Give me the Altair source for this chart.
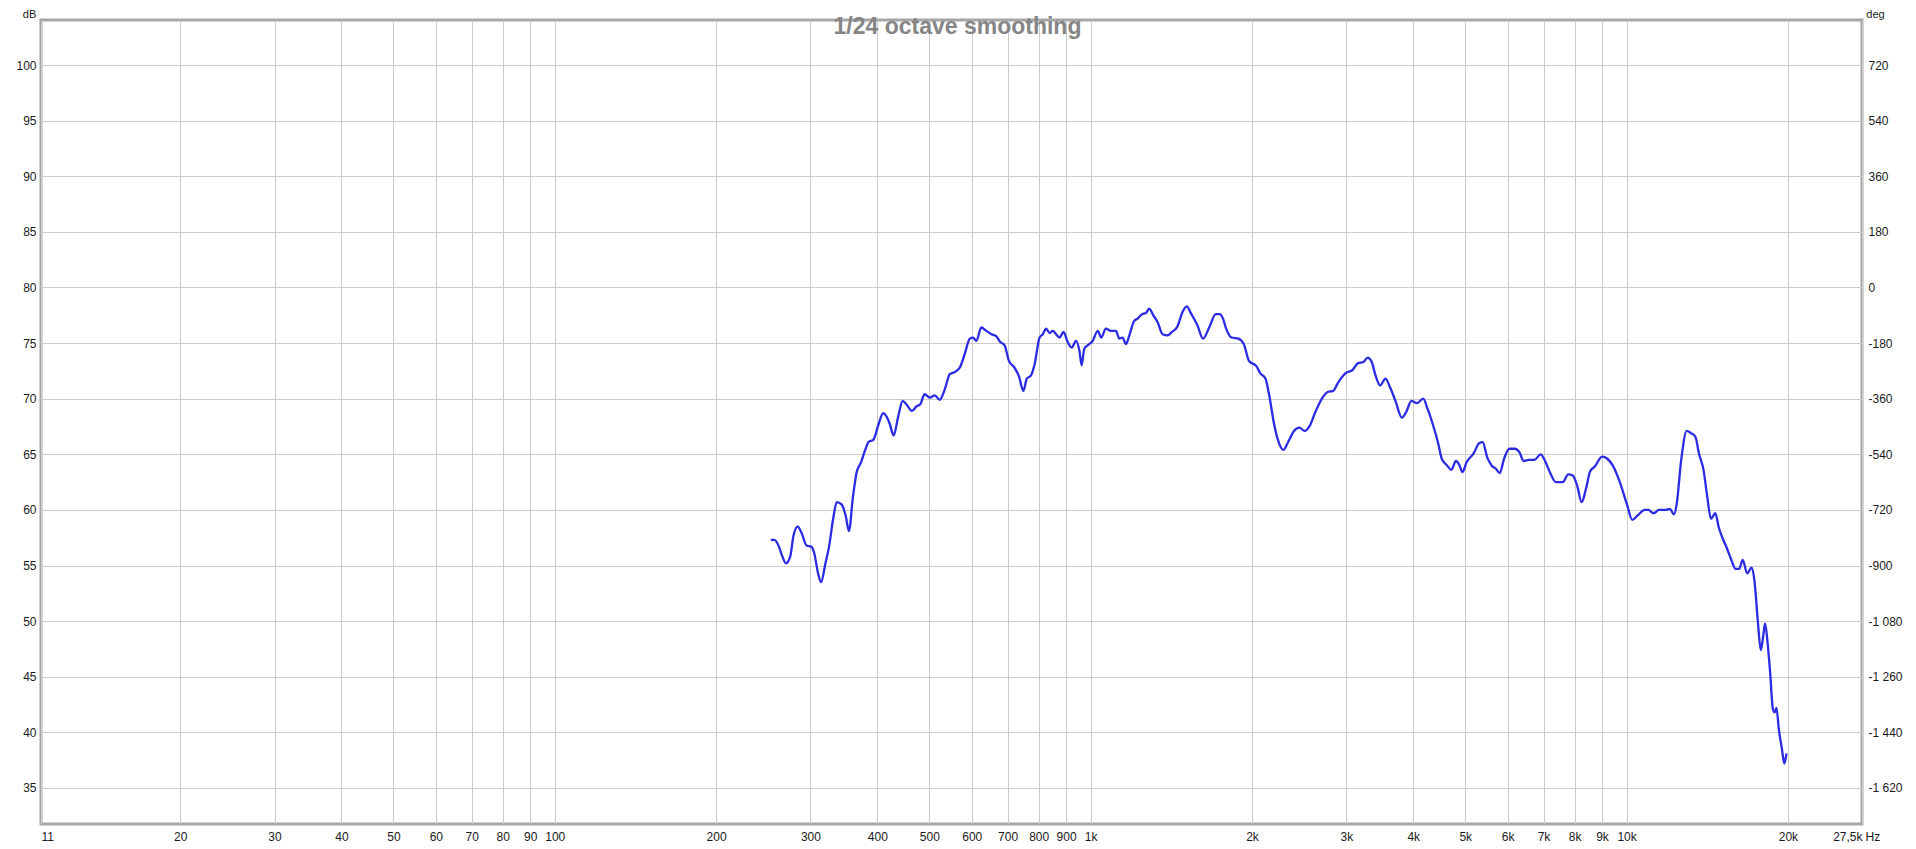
import altair as alt
import pandas as pd

# ---- data (frequency in Hz, level in dB) ----
FREQ_LOW = [253, 257, 262, 266, 270, 275, 279, 284, 289, 295, 301, 305, 310, 314, 320,
            325, 331, 336, 343, 349, 354, 360, 366, 373]
DB_LOW = [57.3, 57.3, 56.7, 55.8, 55.2, 55.8, 57.7, 58.5, 57.9, 56.8, 56.7, 56.1, 54.3, 53.5, 55.2,
          56.7, 59.3, 60.7, 60.5, 59.5, 58.1, 61.1, 63.4, 64.3]

FREQ_MID = [379, 385, 393, 402, 410, 416, 422, 429, 437, 446,
            453, 464, 473, 481, 490, 501, 512, 523, 534, 546,
            558, 570, 582, 595, 603, 612, 625, 639, 653, 667,
            678, 691, 704, 721, 735, 749, 760, 774, 786, 803,
            814, 826, 838, 850, 862, 875, 890, 906, 922, 939,
            953, 962, 973, 987, 1009, 1031, 1046, 1068, 1091, 1115,
            1131, 1147, 1164, 1181, 1206, 1224, 1247, 1268, 1286, 1309,
            1333, 1362, 1391, 1418, 1452, 1484, 1512, 1538, 1582, 1621,
            1664, 1712, 1741, 1766, 1787, 1833, 1886, 1932, 1974]
DB_MID = [65.3, 66.1, 66.3, 67.7, 68.7, 68.4, 67.7, 66.7, 68.3, 69.8,
          69.5, 68.9, 69.3, 69.5, 70.4, 70.1, 70.3, 69.9, 70.8, 72.2,
          72.4, 72.8, 74.0, 75.4, 75.5, 75.2, 76.4, 76.1, 75.8, 75.6,
          75.1, 74.8, 73.4, 72.8, 72.0, 70.7, 71.8, 72.1, 73.1, 75.5,
          75.8, 76.3, 75.9, 76.1, 75.8, 75.5, 76.0, 75.1, 74.6, 75.2,
          74.3, 73.0, 74.5, 74.8, 75.2, 76.1, 75.5, 76.3, 76.1, 76.1,
          75.4, 75.5, 74.9, 75.7, 77.0, 77.2, 77.6, 77.7, 78.1, 77.5,
          76.9, 75.8, 75.7, 76.0, 76.5, 77.8, 78.3, 77.7, 76.6, 75.4,
          76.4, 77.6, 77.6, 77.2, 76.4, 75.5, 75.4, 74.9, 73.4]

FREQ_HIGH = [2040, 2072, 2120, 2152, 2202, 2236, 2288, 2341, 2396, 2451,
             2508, 2566, 2626, 2708, 2770, 2835, 2900, 2991, 3083, 3155,
             3228, 3288, 3339, 3406, 3469, 3550, 3621, 3705, 3808, 3879,
             3969, 4061, 4174, 4252, 4350, 4451, 4520, 4625, 4710, 4805,
             4879, 4939, 5031, 5187, 5307, 5389, 5498, 5600, 5704, 5800,
             5908, 6045, 6185, 6310, 6427, 6576, 6729, 6917, 7045, 7208,
             7376, 7605, 7781, 7938, 8085, 8247, 8400, 8556, 8728, 8999,
             9208, 9422, 9715, 10017, 10249, 10487, 10813, 10980, 11235, 11496,
             11853, 12036, 12259, 12410, 12640, 12953, 13193, 13438, 13645, 13919,
             14134, 14374, 14640, 14866, 15096, 15376, 15661, 15975, 16222, 16472,
             16796, 17107, 17318, 17585, 17802, 17993, 18132, 18327, 18524, 18752,
             18896, 19041, 19246, 19483, 19697, 19878]
DB_HIGH = [72.9, 72.3, 71.8, 70.4, 67.6, 66.3, 65.4, 66.2, 67.1, 67.4,
           67.1, 67.6, 68.8, 70.1, 70.6, 70.7, 71.5, 72.3, 72.6, 73.2,
           73.3, 73.7, 73.4, 72.0, 71.2, 71.8, 71.0, 69.8, 68.3, 68.8,
           69.8, 69.6, 70.0, 69.1, 67.7, 66.0, 64.6, 64.0, 63.6, 64.4,
           64.0, 63.4, 64.3, 65.1, 66.0, 66.1, 64.7, 64.0, 63.7, 63.3,
           64.6, 65.5, 65.5, 65.2, 64.4, 64.5, 64.5, 65.0, 64.4, 63.3,
           62.5, 62.5, 63.2, 63.1, 62.2, 60.7, 61.9, 63.5, 63.9, 64.8,
           64.6, 64.0, 62.5, 60.5, 59.1, 59.5, 60.0, 60.0, 59.7, 60.0,
           60.0, 60.1, 59.6, 60.6, 64.4, 67.1, 66.9, 66.6, 65.1, 63.6,
           61.3, 59.2, 59.7, 58.4, 57.5, 56.6, 55.6, 54.7, 54.7, 55.5,
           54.3, 54.8, 53.7, 49.9, 47.4, 48.7, 49.8, 48.1, 45.5, 42.1,
           41.8, 42.2, 40.2, 38.6, 37.2, 38.1]

X_TICKS = [11, 20, 30, 40, 50, 60, 70, 80, 90, 100, 200, 300, 400, 500, 600, 700, 800, 900,
           1000, 2000, 3000, 4000, 5000, 6000, 7000, 8000, 9000, 10000, 20000, 27500]
X_LABELS = ["11", "20", "30", "40", "50", "60", "70", "80", "90", "100", "200", "300", "400",
            "500", "600", "700", "800", "900", "1k", "2k", "3k", "4k", "5k", "6k", "7k", "8k",
            "9k", "10k", "20k", "27,5k"]
X_DOMAIN = [11, 27500]
DB_TICKS = [35, 40, 45, 50, 55, 60, 65, 70, 75, 80, 85, 90, 95, 100]
DB_DOMAIN = [31.76, 104.05]
DEG_TICKS = [-1620, -1440, -1260, -1080, -900, -720, -540, -360, -180, 0, 180, 360, 540, 720]
DEG_PER_DB = 36
DEG_ZERO_DB = 80
DEG_DOMAIN = [(d - DEG_ZERO_DB) * DEG_PER_DB for d in DB_DOMAIN]
TITLE = "1/24 octave smoothing"

df = pd.DataFrame({"freq": FREQ_LOW + FREQ_MID + FREQ_HIGH,
                   "db": DB_LOW + DB_MID + DB_HIGH})

FONT = "Liberation Sans"
TXT = "#1a1a1a"

x_label_expr = "".join(f"datum.value == {v} ? '{l}' : " for v, l in zip(X_TICKS, X_LABELS)) + "''"
deg_label_expr = "(datum.value < 0 ? '-' : '') + replace(format(abs(datum.value), ','), ',', ' ')"

x_enc = alt.X(
    "freq:Q",
    scale=alt.Scale(type="log", domain=X_DOMAIN, nice=False),
    axis=alt.Axis(values=X_TICKS, labelExpr=x_label_expr, labelOverlap=False, labelFlush=True,
                  ticks=False, domain=False, labelPadding=7, grid=True,
                  title="Hz", titleX=1824, titleY=7, titleAlign="left", titleBaseline="top",
                  titleFontWeight="normal"),
)

line = alt.Chart(df).mark_line(color="#2b2be3", strokeWidth=2.3, interpolate="monotone", clip=True).encode(
    x=x_enc,
    y=alt.Y("db:Q", scale=alt.Scale(domain=DB_DOMAIN, nice=False, zero=False),
            axis=alt.Axis(values=DB_TICKS, ticks=False, domain=False, labelPadding=5, grid=True,
                          labelOverlap=False, labelFlush=False,
                          title="dB", titleAngle=0, titleX=-12, titleY=-1, titleAlign="center",
                          titleBaseline="bottom", titleFontWeight="normal", titleFontSize=11)),
)

deg = alt.Chart(df).transform_calculate(
    deg=f"(datum.db - {DEG_ZERO_DB}) * {DEG_PER_DB}"
).mark_line(opacity=0).encode(
    x=x_enc,
    y=alt.Y("deg:Q", scale=alt.Scale(domain=DEG_DOMAIN, nice=False, zero=False),
            axis=alt.Axis(orient="right", values=DEG_TICKS, labelExpr=deg_label_expr, ticks=False,
                          domain=False, labelPadding=6, grid=False, labelOverlap=False,
                          labelFlush=False,
                          title="deg", titleAngle=0, titleX=13, titleY=-1, titleAlign="center",
                          titleBaseline="bottom", titleFontWeight="normal", titleFontSize=11)),
)

chart = alt.layer(line, deg).resolve_scale(y="independent").properties(
    width=1821,
    height=804,
    padding={"left": 33, "top": 12, "right": 46, "bottom": 20},
    autosize=alt.AutoSizeParams(type="none"),
    background="white",
    title=alt.TitleParams(TITLE, anchor="middle", frame="group", fontSize=23, fontWeight="bold",
                          color="#858585", font=FONT, baseline="top", offset=0, dy=31, dx=6),
).configure_axis(
    labelFont=FONT, labelFontSize=12, labelColor=TXT,
    titleFont=FONT, titleFontSize=12, titleColor=TXT,
    gridColor="#cbcbcb", gridWidth=1,
).configure_view(
    stroke="#a6a6a6", strokeWidth=3,
)

chart.save("out.html", embed_options={"renderer": "svg", "actions": False})
